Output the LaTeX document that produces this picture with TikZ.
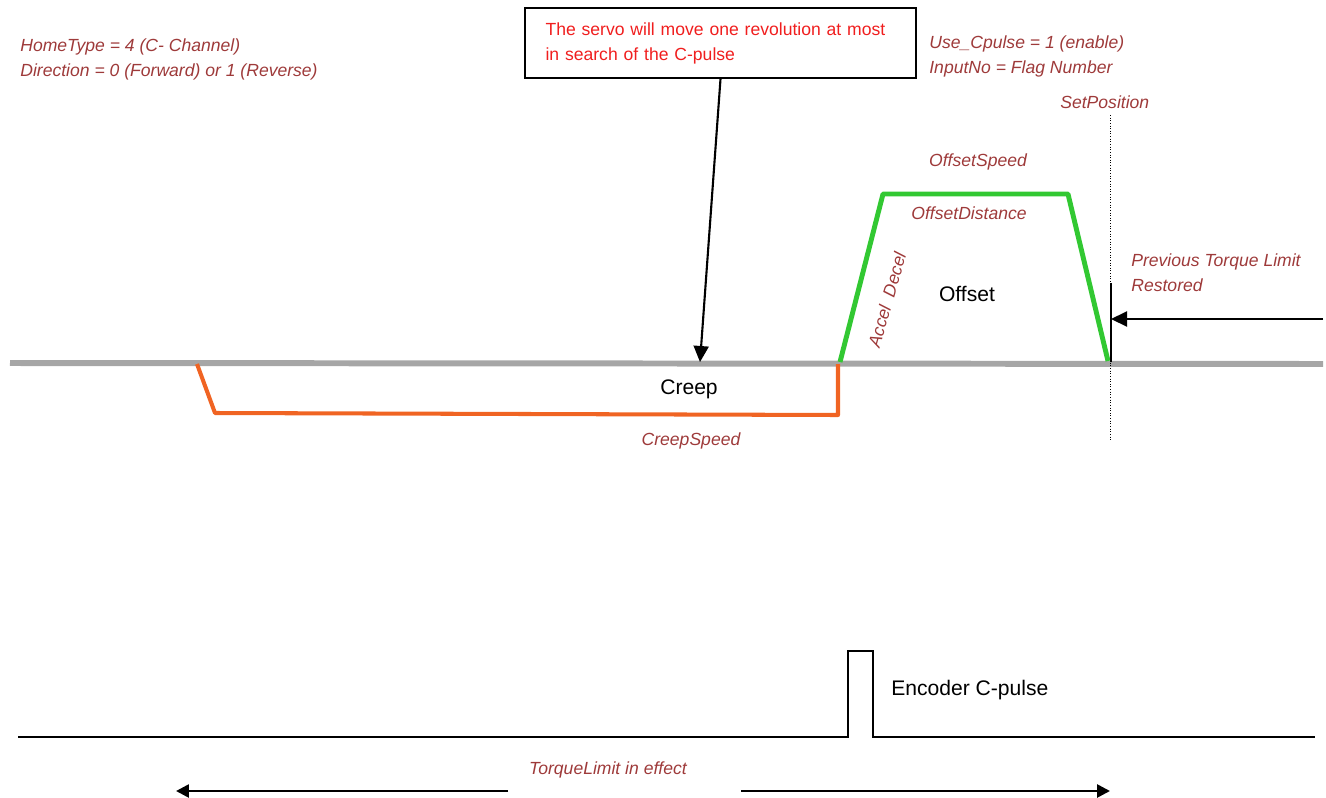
\documentclass[tikz,border=0pt]{standalone}
\usepackage{fontspec}
\setmainfont{Liberation Sans}
\usetikzlibrary{arrows.meta}

\definecolor{parambrown}{RGB}{158,58,58}
\definecolor{notered}{RGB}{240,30,30}
\definecolor{axisgray}{RGB}{166,166,166}
\definecolor{creeporange}{RGB}{240,100,35}
\definecolor{offsetgreen}{RGB}{50,200,50}

\begin{document}
\begin{tikzpicture}[x=0.02cm, y=-0.02cm,
    param/.style={text=parambrown, font=\fontsize{10}{14.2}\selectfont\itshape, inner sep=0pt},
    plain/.style={font=\fontsize{12}{14}\selectfont, inner sep=0pt},
    pointer/.style={-{Triangle[length=0.32cm, width=0.3cm]}, line width=1.2pt},
    span/.style={-{Triangle[length=0.26cm, width=0.26cm]}, line width=1.5pt}]

        \useasboundingbox (0,0) rectangle (1326,798);

        % Parameter notes
        \node[param, anchor=west, align=left] (hometype) at (20,59) {HomeType = 4 (C- Channel)\\Direction = 0 (Forward) or 1 (Reverse)};
        \node[param, anchor=west, align=left] (cpulse) at (929,56) {Use\_Cpulse = 1 (enable)\\InputNo = Flag Number};
        \node[param, anchor=west] (setpos) at (1060,102) {SetPosition};

        % Note box
        \node[draw, line width=1.1pt, minimum width=7.82cm, minimum height=1.4cm, text width=7.0cm, inner xsep=0.4cm, align=left, text=notered, font=\fontsize{10}{14.2}\selectfont] (note) at (720.5,43) {The servo will move one revolution at most\\in search of the C-pulse};

        % Axis
        \draw[axisgray, line width=3.4pt] (10,363) -- (1323,364);

        % Creep move
        \draw[creeporange, line width=2.3pt, line join=round] (197,364) -- (215,413) -- (838,415) -- (838,364);
        \node[plain] (creep) at (689,389) {Creep};
        \node[param] (creepspeed) at (691,441) {CreepSpeed};

        % Offset move
        \draw[offsetgreen, line width=2.8pt, line join=round] (840,362) -- (883,194) -- (1068,194) -- (1108,361);
        \node[param] (offspeed) at (978,162) {OffsetSpeed};
        \node[param] (offdist) at (969,213) {OffsetDistance};
        \node[param, rotate=74] (acceldecel) at (887,300) {Accel\ \ Decel};
        \node[plain] (offset) at (967,294) {Offset};

        % Set position marker
        \draw[densely dotted, line width=0.5pt] (1110,115) -- (1110,440);
        \draw[line width=1.2pt] (1111,283) -- (1111,362);
        \node[param, anchor=west, align=left] (restored) at (1131,272.5) {Previous Torque Limit\\Restored};

        % Arrows
        \coordinate (creephit) at (700,362);
        \coordinate (restR) at (1323,319);
        \coordinate (restL) at (1111,319);
        \draw[pointer] (note.south) -- (creephit);
        \draw[pointer] (restR) -- (restL);

        % Encoder pulse
        \draw[line width=0.9pt] (18,737) -- (848,737) -- (848,651) -- (873,651) -- (873,737) -- (1315,737);
        \node[plain, anchor=west] (encoder) at (891,690) {Encoder C-pulse};

        % Torque limit span
        \node[param] (tlimit) at (608,770) {TorqueLimit in effect};
        \coordinate (spanLa) at (508,791);
        \coordinate (spanLb) at (176,791);
        \coordinate (spanRa) at (741,791);
        \coordinate (spanRb) at (1110,791);
        \draw[span] (spanLa) -- (spanLb);
        \draw[span] (spanRa) -- (spanRb);

    \end{tikzpicture}
\end{document}
